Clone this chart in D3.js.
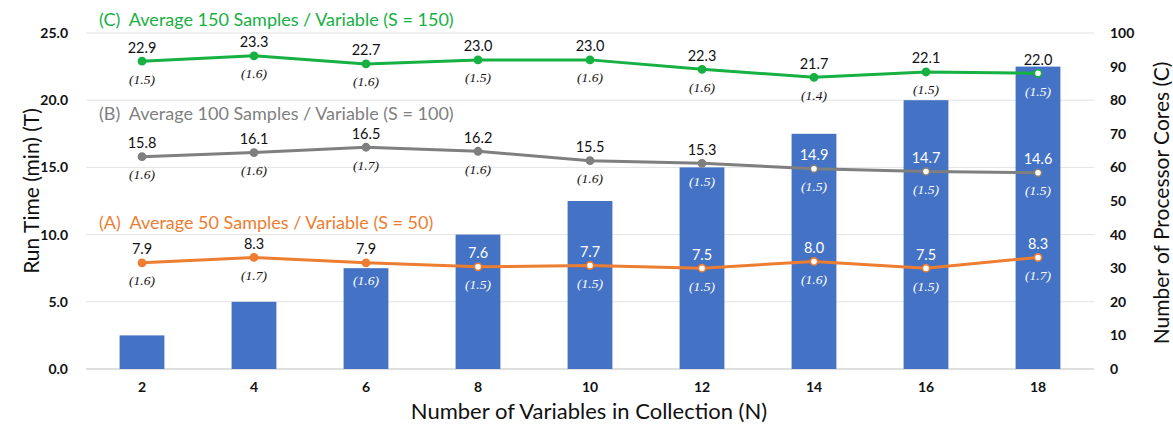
<!DOCTYPE html>
<html>
<head>
<meta charset="utf-8">
<script src="https://cdn.jsdelivr.net/npm/d3@7"></script>
<style>
  html, body { margin: 0; padding: 0; background: #fff; }
  svg { display: block; }
</style>
</head>
<body>
<svg id="chart" width="1173" height="428"></svg>
<script>
// ---- data ----
const categories = [2, 4, 6, 8, 10, 12, 14, 16, 18];
const cores = [10, 20, 30, 40, 50, 60, 70, 80, 90];
const runA = [7.9, 8.3, 7.9, 7.6, 7.7, 7.5, 8.0, 7.5, 8.3];
const sdA = [1.6, 1.7, 1.6, 1.5, 1.5, 1.5, 1.6, 1.5, 1.7];
const runB = [15.8, 16.1, 16.5, 16.2, 15.5, 15.3, 14.9, 14.7, 14.6];
const sdB = [1.6, 1.6, 1.7, 1.6, 1.6, 1.5, 1.5, 1.5, 1.5];
const runC = [22.9, 23.3, 22.7, 23.0, 23.0, 22.3, 21.7, 22.1, 22.0];
const sdC = [1.5, 1.6, 1.6, 1.5, 1.6, 1.6, 1.4, 1.5, 1.5];
const leftTicks = [0, 5, 10, 15, 20, 25];
const rightTicks = [0, 10, 20, 30, 40, 50, 60, 70, 80, 90, 100];
const seriesNames = [
  "(A)  Average 50 Samples / Variable (S = 50)",
  "(B)  Average 100 Samples / Variable (S = 100)",
  "(C)  Average 150 Samples / Variable (S = 150)"
];

// ---- layout ----
const svg = d3.select("#chart");
const plot = { left: 86, right: 1094, top: 33, bottom: 369 };
const SANS = "Lato, 'Open Sans', sans-serif";
const SERIF = "'Liberation Serif', 'DejaVu Serif', serif";

const x = d3.scaleBand().domain(categories).range([plot.left, plot.right]).padding(0);
const yL = d3.scaleLinear().domain([0, 25]).range([plot.bottom, plot.top]);
const yR = d3.scaleLinear().domain([0, 100]).range([plot.bottom, plot.top]);
const barW = x.bandwidth() * 0.4;
const cx = d => x(d) + x.bandwidth() / 2;

// gridlines
svg.append("g").selectAll("line").data(leftTicks).join("line")
  .attr("x1", plot.left).attr("x2", plot.right)
  .attr("y1", d => yL(d)).attr("y2", d => yL(d))
  .attr("stroke", d => d === 0 ? "#d4d4d4" : "#e3e3e3")
  .attr("stroke-width", d => d === 0 ? 1.5 : 1);

// bars
svg.append("g").selectAll("rect").data(categories).join("rect")
  .attr("x", (d) => cx(d) - barW / 2)
  .attr("width", barW)
  .attr("y", (d, i) => yR(cores[i]))
  .attr("height", (d, i) => yR(0) - yR(cores[i]))
  .attr("fill", "#4472C4");

// left axis
const axL = d3.axisLeft(yL).tickValues(leftTicks).tickFormat(d3.format(".1f")).tickSize(0).tickPadding(0);
const gL = svg.append("g").attr("transform", `translate(${plot.left - 18},0)`).call(axL);
gL.select(".domain").remove();
gL.selectAll("text").attr("font-family", SANS).attr("font-size", 14).attr("font-weight", 700).attr("fill", "#111");

// right axis
const axR = d3.axisRight(yR).tickValues(rightTicks).tickFormat(d3.format("d")).tickSize(0).tickPadding(0);
const gR = svg.append("g").attr("transform", `translate(1110,0)`).call(axR);
gR.select(".domain").remove();
gR.selectAll("text").attr("font-family", SANS).attr("font-size", 14).attr("font-weight", 700).attr("fill", "#111");

// bottom axis
const axB = d3.axisBottom(x).tickSize(0).tickPadding(0);
const gB = svg.append("g").attr("transform", `translate(0,${plot.bottom + 13})`).call(axB);
gB.select(".domain").remove();
gB.selectAll("text").attr("font-family", SANS).attr("font-size", 14).attr("font-weight", 700).attr("fill", "#111");

// axis titles
svg.append("text").attr("transform", `translate(30,191) rotate(-90)`)
  .attr("text-anchor", "middle").attr("dominant-baseline", "central")
  .attr("font-family", SANS).attr("font-size", 21).attr("fill", "#111")
  .text("Run Time (min) (T)");
svg.append("text").attr("transform", `translate(1160,203) rotate(-90)`)
  .attr("text-anchor", "middle").attr("dominant-baseline", "central")
  .attr("font-family", SANS).attr("font-size", 21).attr("fill", "#111")
  .text("Number of Processor Cores (C)");
svg.append("text").attr("x", 589).attr("y", 410)
  .attr("text-anchor", "middle").attr("dominant-baseline", "central")
  .attr("font-family", SANS).attr("font-size", 22).attr("fill", "#111")
  .text("Number of Variables in Collection (N)");

// series
const series = [
  { name: seriesNames[0], vals: runA, sds: sdA, color: "#ED7D31", titleY: 222 },
  { name: seriesNames[1], vals: runB, sds: sdB, color: "#7F7F7F", titleY: 113 },
  { name: seriesNames[2], vals: runC, sds: sdC, color: "#16B043", titleY: 19 }
];

const line = d3.line().x(d => cx(d.c)).y(d => yL(d.v));

series.forEach(s => {
  const pts = categories.map((c, i) => ({ c, v: s.vals[i], sd: s.sds[i], bar: yR(cores[i]) }));
  svg.append("text").attr("x", 99).attr("y", s.titleY)
    .attr("dominant-baseline", "central")
    .attr("font-family", SANS).attr("font-size", 18).attr("fill", s.color)
    .attr("xml:space", "preserve")
    .text(s.name);

  svg.append("path").datum(pts).attr("d", line)
    .attr("fill", "none").attr("stroke", s.color).attr("stroke-width", 3)
    .attr("stroke-linejoin", "round");

  svg.append("g").selectAll("circle").data(pts).join("circle")
    .attr("cx", d => cx(d.c)).attr("cy", d => yL(d.v)).attr("r", 3.6)
    .attr("fill", d => yL(d.v) > d.bar ? "#fff" : s.color)
    .attr("stroke", s.color).attr("stroke-width", 1.6);

  svg.append("g").selectAll("text").data(pts).join("text")
    .attr("x", d => cx(d.c)).attr("y", d => yL(d.v) - 14)
    .attr("text-anchor", "middle").attr("dominant-baseline", "central")
    .attr("font-family", SANS).attr("font-size", 14.5)
    .attr("fill", d => (yL(d.v) - 14) > d.bar + 4 ? "#fff" : "#111")
    .text(d => d3.format(".1f")(d.v));

  svg.append("g").selectAll("text").data(pts).join("text")
    .attr("x", d => cx(d.c)).attr("y", d => yL(d.v) + 18)
    .attr("text-anchor", "middle").attr("dominant-baseline", "central")
    .attr("font-family", SERIF).attr("font-style", "italic").attr("font-size", 13.5)
    .attr("fill", d => (yL(d.v) + 18) > d.bar + 4 ? "#fff" : "#111")
    .text(d => `(${d3.format(".1f")(d.sd)})`);
});
</script>
</body>
</html>
